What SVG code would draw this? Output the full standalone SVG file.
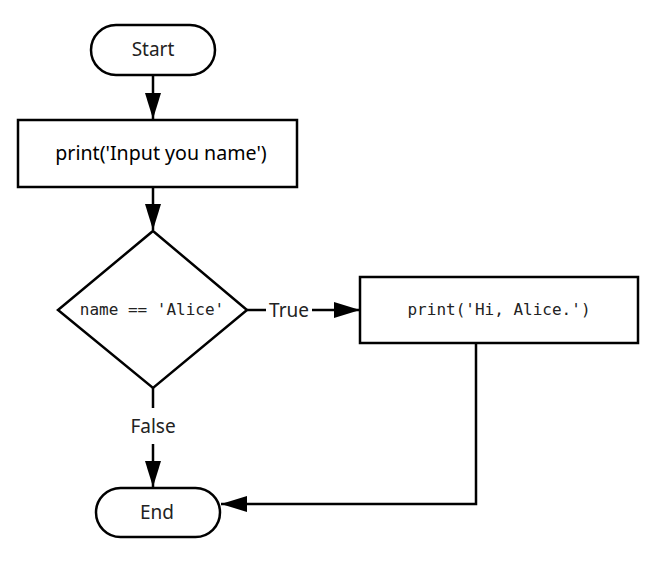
<svg xmlns="http://www.w3.org/2000/svg" width="662" height="576" viewBox="0 0 662 576">
<defs>
<marker id="ah" viewBox="0 0 26 16" refX="26" refY="8" markerWidth="26" markerHeight="16" markerUnits="userSpaceOnUse" orient="auto">
<path d="M0,0 L26,8 L0,16 Z" fill="#000"/>
</marker>
</defs>
<style>
.shape{fill:#fff;stroke:#000;stroke-width:2.5}
.line{fill:none;stroke:#000;stroke-width:2.5}
.sans{font-family:"Noto Sans","Liberation Sans",sans-serif;font-size:19px;fill:#222}
.mono{font-family:"DejaVu Sans Mono","Liberation Mono",monospace;font-size:16px;fill:#222}
.ui{font-family:"Noto Sans","Liberation Sans",sans-serif;font-size:19.6px;fill:#000}
</style>
<rect width="662" height="576" fill="#fff"/>
<g id="connectors">
<line class="line" x1="153" y1="76" x2="153" y2="119" marker-end="url(#ah)"/>
<line class="line" x1="153" y1="187" x2="153" y2="230" marker-end="url(#ah)"/>
<line class="line" x1="247" y1="310" x2="266" y2="310"/>
<line class="line" x1="312" y1="310" x2="360" y2="310" marker-end="url(#ah)"/>
<line class="line" x1="153" y1="388" x2="153" y2="408"/>
<line class="line" x1="153" y1="444" x2="153" y2="487" marker-end="url(#ah)"/>
<polyline class="line" points="476,343 476,504 221,504" marker-end="url(#ah)"/>
<text class="sans" x="289" y="317" text-anchor="middle">True</text>
<text class="sans" x="153" y="433" text-anchor="middle">False</text>
</g>
<g id="start">
<rect class="shape" x="91" y="25" width="124" height="50" rx="25"/>
<text class="sans" x="153" y="56" text-anchor="middle">Start</text>
</g>
<g id="input">
<rect class="shape" x="18" y="120" width="279" height="67"/>
<text class="ui" x="161" y="160" text-anchor="middle">print('Input you name')</text>
</g>
<g id="decision">
<polygon class="shape" points="153,231 247,310 153,388 58,310"/>
<text class="mono" x="152" y="315" text-anchor="middle">name == 'Alice'</text>
</g>
<g id="hi">
<rect class="shape" x="360" y="277" width="278" height="66"/>
<text class="mono" x="499" y="315" text-anchor="middle">print('Hi, Alice.')</text>
</g>
<g id="end">
<rect class="shape" x="96" y="488" width="124" height="49" rx="24.5"/>
<text class="sans" x="157" y="519" text-anchor="middle">End</text>
</g>
</svg>
